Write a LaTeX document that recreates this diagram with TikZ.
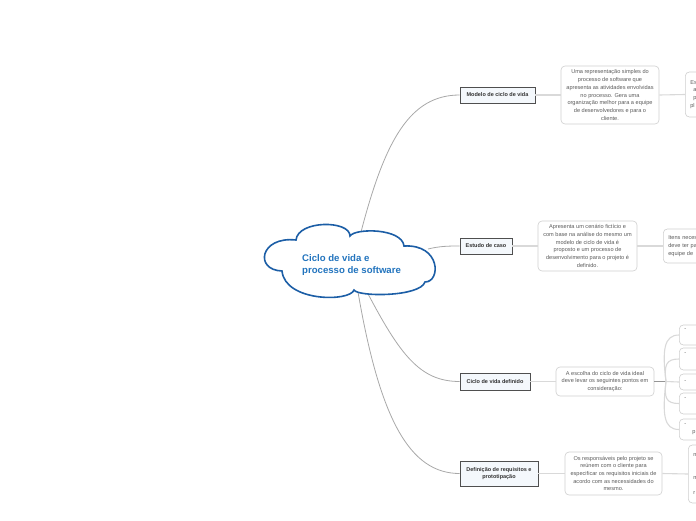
\documentclass[tikz,border=0pt]{standalone}
\usepackage{fontspec}
\setmainfont{Liberation Sans}
\usetikzlibrary{shadows}
\definecolor{cloudblue}{HTML}{1C5EA6}
\definecolor{titleblue}{HTML}{2274BE}
\definecolor{mainline}{HTML}{A8A8A8}
\definecolor{subline}{HTML}{D9D9D9}
\definecolor{boxborder}{HTML}{4F4F4F}
\definecolor{boxfill}{HTML}{F4F8FC}
\definecolor{maintext}{HTML}{333333}
\definecolor{subborder}{HTML}{CFCFCF}
\definecolor{subtext}{HTML}{5C5C5C}
\begin{document}
\begin{tikzpicture}[x=1pt,y=-1pt,
  mainbox/.style={draw=boxborder, fill=boxfill, line width=0.7pt, font=\fontsize{5.5}{7.6}\selectfont\bfseries,
    text=maintext, inner sep=1pt, align=center,
    drop shadow={shadow xshift=0.8pt, shadow yshift=-0.8pt, fill=boxborder, opacity=1}},
  subbox/.style={draw=subborder, fill=white, rounded corners=4pt, line width=0.6pt,
    font=\fontsize{5.6}{7.7}\selectfont, text=subtext, inner sep=1pt, align=center},
  edgebox/.style={subbox, anchor=west, align=left, text width=40pt, inner xsep=5pt},
  trunk/.style={draw=mainline, line width=0.8pt},
  twig/.style={draw=subline, line width=1.1pt}]
\useasboundingbox (0,0) rectangle (696,520);
\clip (0,0) rectangle (696,520);

% connectors from the central topic
\coordinate (s1) at (361,232);
\coordinate (s2) at (428,249);
\coordinate (s3) at (366,290);
\coordinate (s4) at (358,292);

\node[mainbox, minimum width=75pt, minimum height=16pt] (m1) at (497.5,95) {Modelo de ciclo de vida};
\node[mainbox, minimum width=52pt, minimum height=16pt] (m2) at (486,246) {Estudo de caso};
\node[mainbox, minimum width=70pt, minimum height=17pt] (m3) at (495,381.5) {Ciclo de vida definido};
\node[mainbox, minimum width=78pt, minimum height=25pt] (m4) at (499,473.5) {Definição de requisitos e\\prototipação};

\draw[trunk] (s1) .. controls (385,140) and (410,95) .. (m1.west);
\draw[trunk] (s2) .. controls (440,246) and (450,246) .. (m2.west);
\draw[trunk] (s3) .. controls (400,355) and (420,381.5) .. (m3.west);
\draw[trunk] (s4) .. controls (380,420) and (410,473.5) .. (m4.west);

% central cloud
\draw[cloudblue, line width=1.6pt, fill=white]
  (282,271) .. controls (254,270) and (260,236) .. (296,240)
  .. controls (298,220) and (350,220) .. (350,236)
  .. controls (355,228) and (402,228) .. (404,246)
  .. controls (441,244) and (441,282) .. (425,282)
  .. controls (420,297) and (358,297) .. (354,290)
  .. controls (350,302) and (285,302) .. cycle;
\node[font=\fontsize{9.6}{12}\selectfont\bfseries, text=titleblue, align=left, anchor=west, inner sep=0pt] (title) at (302,265)
  {Ciclo de vida e\\processo de software};

% row 1
\node[subbox, minimum width=98pt, minimum height=58pt] (a1) at (610,95)
  {Uma representação simples do\\processo de software que\\apresenta as atividades envolvidas\\no processo. Gera uma\\organização melhor para a equipe\\de desenvolvedores e para o\\cliente.};
\node[subbox, anchor=west, align=left, minimum width=60pt, minimum height=45pt, text width=50pt, inner xsep=4pt] (a2) at (685,94.5)
  {Es\\\hspace*{3pt}a\\\hspace*{3pt}p\\pl};
\draw[twig] (m1.east) -- (a1.west);
\draw[twig] (a1.east) -- (a2.west);

% row 2
\node[subbox, minimum width=99pt, minimum height=50pt] (b1) at (587.5,246)
  {Apresenta um cenário fictício e\\com base na análise do mesmo um\\modelo de ciclo de vida é\\proposto e um processo de\\desenvolvimento para o projeto é\\definido.};
\node[subbox, anchor=west, align=left, minimum width=60pt, minimum height=34pt, text width=50pt, inner xsep=4.5pt] (b2) at (663,246)
  {Itens neces\\deve ter pa\\equipe de};
\draw[twig] (m2.east) -- (b1.west);
\draw[twig] (b1.east) -- (b2.west);

% row 3
\node[subbox, minimum width=98pt, minimum height=29pt] (c1) at (605,381.5)
  {A escolha do ciclo de vida ideal\\deve levar os seguintes pontos em\\consideração:};
\draw[twig] (m3.east) -- (c1.west);
\node[edgebox, minimum height=20pt] (e1) at (679,335) {-\\\strut};
\node[edgebox, minimum height=22pt] (e2) at (679,359) {-\\\strut};
\node[edgebox, minimum height=16pt] (e3) at (679,382) {-};
\node[edgebox, minimum height=21pt] (e4) at (679,403.5) {-\\\strut};
\node[edgebox, minimum height=21pt] (e5) at (679,429.5) {-\\\hspace*{8pt}p};
\coordinate (fork) at (666,381.5);
\draw[trunk, draw=boxborder!60] (c1.east) -- (fork);
\draw[twig] (fork) .. controls (662,350) and (664,335) .. (e1.west);
\draw[twig] (fork) .. controls (664,365) and (666,359) .. (e2.west);
\draw[twig] (fork) -- (e3.west);
\draw[twig] (fork) .. controls (664,398) and (666,403.5) .. (e4.west);
\draw[twig] (fork) .. controls (662,415) and (664,429.5) .. (e5.west);

% row 4
\node[subbox, minimum width=97pt, minimum height=43pt] (d1) at (613.5,473.5)
  {Os responsáveis pelo projeto se\\reúnem com o cliente para\\especificar os requisitos iniciais de\\acordo com as necessidades do\\mesmo.};
\node[subbox, anchor=west, align=left, minimum width=60pt, minimum height=58pt, text width=50pt, inner xsep=4pt] (d2) at (688,474)
  {n\\\strut\\\strut\\m\\\strut\\r};
\draw[twig] (m4.east) -- (d1.west);
\draw[twig] (d1.east) -- (d2.west);
\end{tikzpicture}
\end{document}
